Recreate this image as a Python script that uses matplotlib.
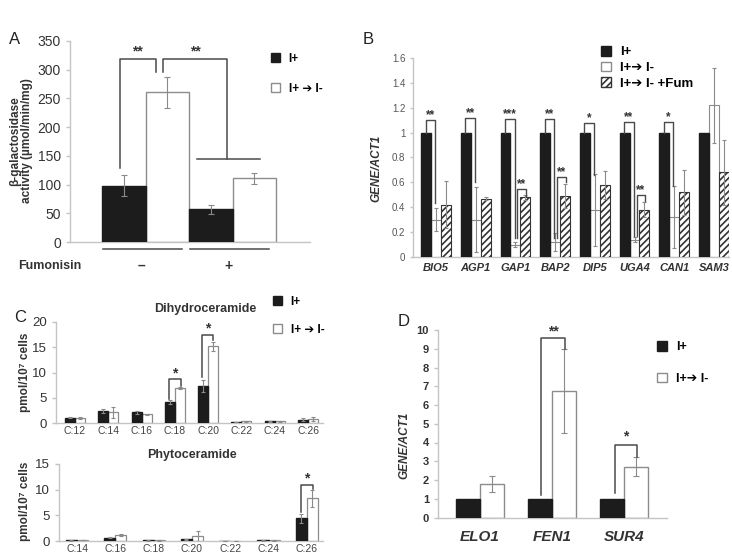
import matplotlib
matplotlib.use('Agg')
import matplotlib.pyplot as plt
from matplotlib.patches import Patch
import numpy as np

plt.rcParams['font.family'] = ['Liberation Sans', 'DejaVu Sans']
plt.rcParams['hatch.linewidth'] = 1.2

# ---- panel A: beta-galactosidase activity
a_groups = ['–', '+']
a_ip = [98, 57]
a_ip_err = [18, 8]
a_im = [261, 111]
a_im_err = [27, 10]

# ---- panel B: permease expression
b_genes = ['BIO5', 'AGP1', 'GAP1', 'BAP2', 'DIP5', 'UGA4', 'CAN1', 'SAM3']
b_ip = [1, 1, 1, 1, 1, 1, 1, 1]
b_im = [0.30, 0.30, 0.10, 0.12, 0.38, 0.14, 0.32, 1.22]
b_im_err = [0.09, 0.26, 0.02, 0.07, 0.29, 0.02, 0.25, 0.30]
b_fum = [0.42, 0.47, 0.48, 0.49, 0.58, 0.38, 0.52, 0.68]
b_fum_err = [0.19, 0.01, 0.02, 0.10, 0.11, 0.06, 0.18, 0.26]

# ---- panel C: ceramide species
c_dh_chains = ['C:12', 'C:14', 'C:16', 'C:18', 'C:20', 'C:22', 'C:24', 'C:26']
c_dh_ip = [1.0, 2.4, 2.1, 4.1, 7.3, 0.2, 0.3, 0.6]
c_dh_ip_err = [0.1, 0.4, 0.3, 0.4, 1.2, 0.05, 0.05, 0.3]
c_dh_im = [1.0, 2.1, 1.7, 7.0, 15.2, 0.3, 0.3, 0.8]
c_dh_im_err = [0.2, 1.1, 0.1, 0.2, 0.9, 0.1, 0.1, 0.4]

c_ph_chains = ['C:14', 'C:16', 'C:18', 'C:20', 'C:22', 'C:24', 'C:26']
c_ph_ip = [0.1, 0.6, 0.1, 0.3, 0.0, 0.1, 4.4]
c_ph_ip_err = [0.02, 0.1, 0.02, 0.1, 0.0, 0.02, 0.8]
c_ph_im = [0.25, 1.2, 0.1, 0.9, 0.05, 0.1, 8.3]
c_ph_im_err = [0.03, 0.2, 0.02, 1.1, 0.01, 0.02, 1.6]

# ---- panel D: elongase expression
d_genes = ['ELO1', 'FEN1', 'SUR4']
d_ip = [1, 1, 1]
d_im = [1.8, 6.75, 2.72]
d_im_err = [0.42, 2.25, 0.5]

lab_ip = 'I+'
lab_im = 'I+ ➔ I-'
lab_im2 = 'I+➔ I-'
lab_fum = 'I+➔ I- +Fum'

W, H = 732, 554
BLACK = '#1c1c1c'
EDGE = '#8c8c8c'
SPINE = '#c4c4c4'
LINE = '#4a4a4a'

fig = plt.figure(figsize=(W / 100, H / 100), dpi=100)


def fx(px):
    return px / W


def fy(py):
    return 1 - py / H


def add_ax(left, top, right, bottom):
    ax = fig.add_axes([fx(left), fy(bottom), (right - left) / W, (bottom - top) / H])
    for s in ['top', 'right']:
        ax.spines[s].set_visible(False)
    for s in ['left', 'bottom']:
        ax.spines[s].set_color(SPINE)
        ax.spines[s].set_linewidth(1.0)
    ax.tick_params(axis='y', length=3, color=SPINE, width=1)
    ax.tick_params(axis='x', length=0)
    return ax


def errs(ax, x, y, e, cap=2):
    ax.errorbar(x, y, yerr=e, fmt='none', ecolor='#8a8a8a', elinewidth=0.8,
                capsize=cap, capthick=0.8, zorder=4)


def bracket(ax, x1, x2, y1, ytop, y2, label, fs, off, lw=1.1):
    ax.plot([x1, x1, x2, x2], [y1, ytop, ytop, y2], color=LINE, lw=lw,
            clip_on=False, zorder=5)
    ax.text((x1 + x2) / 2, ytop + off, label, ha='center', va='bottom',
            fontsize=fs, fontweight='bold', color='#333333')


def legend(ax, handles, labels, x, y, fs, spacing, hl=0.8):
    ax.legend(handles, labels, loc='upper left', bbox_to_anchor=(fx(x), fy(y)),
              bbox_transform=fig.transFigure, frameon=False, borderpad=0,
              borderaxespad=0, handlelength=hl, handleheight=hl,
              handletextpad=0.7, labelspacing=spacing,
              prop={'size': fs, 'weight': 'bold'})


h_black = Patch(facecolor=BLACK, edgecolor=BLACK)
h_white = Patch(facecolor='white', edgecolor=EDGE)
h_hatch = Patch(facecolor='white', edgecolor='#333333', hatch='/////')

# ================= A
axA = add_ax(70, 41, 310, 242)
xa = np.arange(len(a_groups))
axA.bar(xa - 0.25, a_ip, 0.5, color=BLACK, edgecolor=BLACK, zorder=3)
axA.bar(xa + 0.25, a_im, 0.5, color='white', edgecolor=EDGE, lw=1, zorder=2)
errs(axA, xa - 0.25, a_ip, a_ip_err)
errs(axA, xa + 0.25, a_im, a_im_err)
axA.set_ylim(0, 350)
axA.set_xlim(-0.87, 1.89)
axA.set_yticks(range(0, 351, 50))
axA.set_xticks([])
axA.tick_params(axis='y', labelsize=10, labelcolor='#333333')
bracket(axA, -0.30, 0.115, 129, 319, 296, '**', 10, 0)
bracket(axA, 0.195, 0.94, 296, 319, 144, '**', 10, 0)
axA.plot([0.586, 1.32], [144, 144], color=LINE, lw=1.1, zorder=5)
for i in range(len(a_groups)):
    axA.plot([i - 0.49, i + 0.42], [-12, -12], color=LINE, lw=1.1, clip_on=False)
    axA.text(i - 0.05, -42, a_groups[i], ha='center', va='center', fontsize=10,
             fontweight='bold', color='#333333')
fig.text(fx(50), fy(266), 'Fumonisin', ha='center', va='center', fontsize=9,
         fontweight='bold', color='#333333')
fig.text(fx(21), fy(141), 'β-galactosidase\nactivity (µmol/min/mg)', ha='center',
         va='center', rotation=90, fontsize=8.5, fontweight='bold', color='#333333',
         linespacing=1.0)
legend(axA, [h_black, h_white], [lab_ip, lab_im], 271, 53, 8.5, 1.5)
fig.text(fx(15), fy(40), 'A', ha='center', va='center', fontsize=12, color='#222222')

# ================= B
axB = add_ax(413, 58, 729, 257)
xb = np.arange(len(b_genes))
axB.bar(xb, b_im, 0.25, color='white', edgecolor=EDGE, lw=0.8, zorder=2)
axB.bar(xb - 0.25, b_ip, 0.25, color=BLACK, edgecolor=BLACK, zorder=3)
axB.bar(xb + 0.25, b_fum, 0.25, color='white', edgecolor='#333333', hatch='/////',
        lw=0.8, zorder=3)
errs(axB, xb, b_im, b_im_err, cap=1.5)
errs(axB, xb + 0.25, b_fum, b_fum_err, cap=1.5)
axB.set_ylim(0, 1.6)
axB.set_xlim(-0.58, 7.38)
axB.set_yticks([0, 0.2, 0.4, 0.6, 0.8, 1, 1.2, 1.4, 1.6])
axB.set_yticklabels(['0', '0.2', '0.4', '0.6', '0.8', '1', '1.2', '1.4', '1.6'])
axB.tick_params(axis='y', labelsize=7, labelcolor='#555555', length=2)
axB.set_xticks(xb)
axB.set_xticklabels(b_genes, fontsize=8, fontweight='bold', style='italic',
                    color='#333333')
axB.tick_params(axis='x', pad=4)
sig1 = [(0, 1.10, 0.435, '**'), (1, 1.115, 0.60, '**'), (2, 1.11, 0.15, '***'),
        (3, 1.11, 0.15, '**'), (4, 1.08, 0.66, '*'), (5, 1.086, 0.17, '**'),
        (6, 1.086, 0.57, '*')]
for i, top, rb, s in sig1:
    bracket(axB, i - 0.26, i - 0.02, 1.0, top, rb, s, 8.5, -0.01, lw=1)
sig2 = [(2, 0.55, 0.15, 0.49), (3, 0.645, 0.15, 0.60), (5, 0.50, 0.17, 0.45)]
for i, top, lb, rb in sig2:
    bracket(axB, i + 0.05, i + 0.27, lb, top, rb, '**', 8.5, -0.01, lw=1)
fig.text(fx(376), fy(168), 'GENE/ACT1', ha='center', va='center', rotation=90,
         fontsize=8.5, fontweight='bold', style='italic', color='#333333')
legend(axB, [h_black, h_white, h_hatch], [lab_ip, lab_im2, lab_fum], 601, 46, 9.5, 0.25, hl=0.75)
fig.text(fx(368), fy(40), 'B', ha='center', va='center', fontsize=12, color='#222222')

# ================= C (dihydroceramide)
axC1 = add_ax(56, 322, 323, 423)
xc1 = np.arange(len(c_dh_chains))
axC1.bar(xc1 - 0.15, c_dh_ip, 0.3, color=BLACK, edgecolor=BLACK, zorder=3)
axC1.bar(xc1 + 0.15, c_dh_im, 0.3, color='white', edgecolor=EDGE, lw=0.9, zorder=2)
errs(axC1, xc1 - 0.15, c_dh_ip, c_dh_ip_err, cap=1.5)
errs(axC1, xc1 + 0.15, c_dh_im, c_dh_im_err, cap=1.5)
axC1.set_ylim(0, 20)
axC1.set_xlim(-0.57, 7.45)
axC1.set_yticks([0, 5, 10, 15, 20])
axC1.tick_params(axis='y', labelsize=9.5, labelcolor='#333333')
axC1.set_xticks(xc1)
axC1.set_xticklabels(c_dh_chains, fontsize=7.5, color='#444444')
axC1.tick_params(axis='x', pad=2)
bracket(axC1, 2.82, 3.17, 4.8, 8.7, 7.4, '*', 10, -0.2)
bracket(axC1, 3.82, 4.15, 9.2, 17.5, 16.4, '*', 10, -0.2)
axC1.text(3.9, 21.3, 'Dihydroceramide', ha='center', va='bottom', fontsize=9,
          fontweight='bold', color='#333333')
fig.text(fx(25), fy(372), 'pmol/10⁷ cells', ha='center', va='center', rotation=90,
         fontsize=8.5, fontweight='bold', color='#333333')
legend(axC1, [h_black, h_white], [lab_ip, lab_im], 273, 296, 8.5, 1.35)
fig.text(fx(20), fy(318), 'C', ha='center', va='center', fontsize=12, color='#222222')

# ================= C (phytoceramide)
axC2 = add_ax(59, 464, 323, 541)
xc2 = np.arange(len(c_ph_chains))
axC2.bar(xc2 - 0.145, c_ph_ip, 0.29, color=BLACK, edgecolor=BLACK, zorder=3)
axC2.bar(xc2 + 0.145, c_ph_im, 0.29, color='white', edgecolor=EDGE, lw=0.9, zorder=2)
errs(axC2, xc2 - 0.145, c_ph_ip, c_ph_ip_err, cap=1.5)
errs(axC2, xc2 + 0.145, c_ph_im, c_ph_im_err, cap=1.5)
axC2.set_ylim(0, 15)
axC2.set_xlim(-0.47, 6.42)
axC2.set_yticks([0, 5, 10, 15])
axC2.tick_params(axis='y', labelsize=9.5, labelcolor='#333333')
axC2.set_xticks(xc2)
axC2.set_xticklabels(c_ph_chains, fontsize=7.5, color='#444444')
axC2.tick_params(axis='x', pad=2)
bracket(axC2, 5.84, 6.17, 5.6, 10.9, 10.2, '*', 10, 0)
axC2.text(3.0, 15.6, 'Phytoceramide', ha='center', va='bottom', fontsize=9,
          fontweight='bold', color='#333333')
fig.text(fx(25), fy(501), 'pmol/10⁷ cells', ha='center', va='center', rotation=90,
         fontsize=8.5, fontweight='bold', color='#333333')

# ================= D
axD = add_ax(438, 330, 667, 517.5)
xd = np.arange(len(d_genes))
axD.bar(xd - 0.167, d_ip, 0.333, color=BLACK, edgecolor=BLACK, zorder=3)
axD.bar(xd + 0.167, d_im, 0.333, color='white', edgecolor=EDGE, lw=1, zorder=2)
errs(axD, xd + 0.167, d_im, d_im_err)
axD.set_ylim(0, 10)
axD.set_xlim(-0.583, 2.59)
axD.set_yticks(range(0, 11))
for t in axD.get_yticklabels():
    t.set_fontweight('bold')
axD.tick_params(axis='y', labelsize=8, labelcolor='#333333')
axD.set_xticks(xd)
axD.set_xticklabels(d_genes, fontsize=11, fontweight='bold', style='italic',
                    color='#333333')
axD.tick_params(axis='x', pad=9)
bracket(axD, 0.84, 1.18, 1.2, 9.6, 9.0, '**', 10, -0.05)
bracket(axD, 1.87, 2.17, 1.3, 3.87, 3.25, '*', 10, 0.1)
fig.text(fx(404), fy(445), 'GENE/ACT1', ha='center', va='center', rotation=90,
         fontsize=8.5, fontweight='bold', style='italic', color='#333333')
legend(axD, [h_black, h_white], [lab_ip, lab_im2], 657, 341, 9, 1.55)
fig.text(fx(404), fy(321), 'D', ha='center', va='center', fontsize=12, color='#222222')

fig.savefig('out.png', dpi=100)
